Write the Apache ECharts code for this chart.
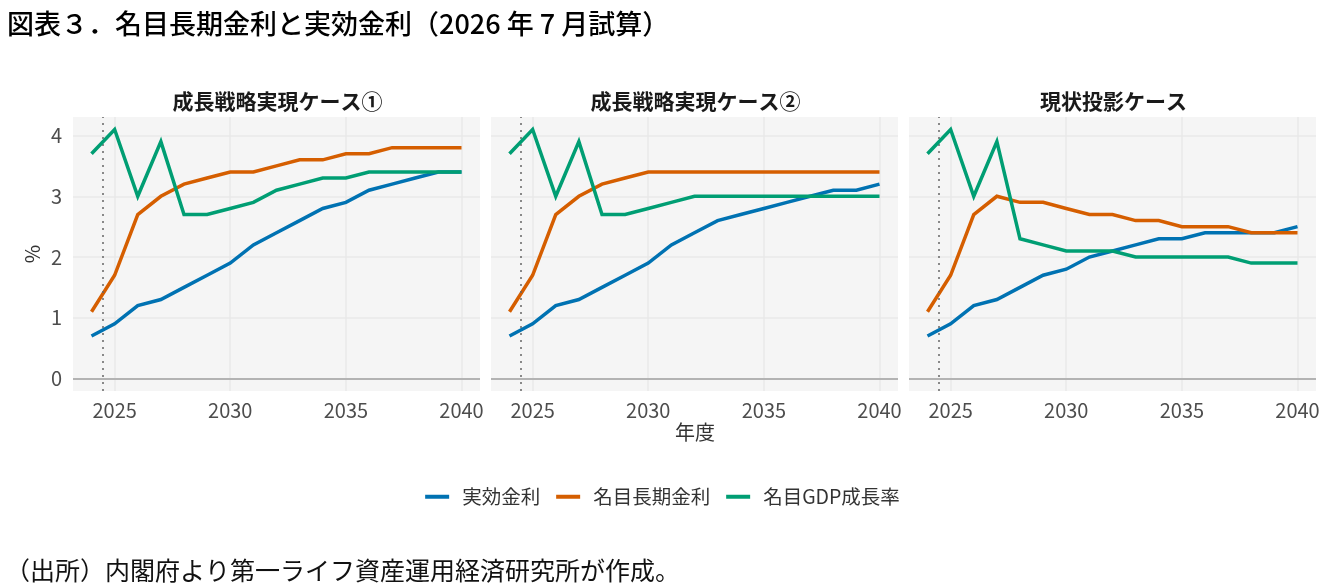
<!DOCTYPE html>
<html>
<head>
<meta charset="utf-8">
<script src="https://cdn.jsdelivr.net/npm/echarts@6/dist/echarts.min.js"></script>
<style>
  html, body { margin: 0; padding: 0; background: #fff; }
  #chart { width: 1325px; height: 585px; }
</style>
</head>
<body>
<div id="chart"></div>
<script>
'use strict';

const years = [2024, 2025, 2026, 2027, 2028, 2029, 2030, 2031, 2032,
  2033, 2034, 2035, 2036, 2037, 2038, 2039, 2040];
const xTicks = [2025, 2030, 2035, 2040];
const yTicks = [0, 1, 2, 3, 4];

const panelTitles = ['成長戦略実現ケース①', '成長戦略実現ケース②', '現状投影ケース'];
const seriesNames = ['実効金利', '名目長期金利', '名目GDP成長率'];

// 成長戦略実現ケース①
const case1_effective = [0.7, 0.9, 1.2, 1.3, 1.5, 1.7, 1.9, 2.2, 2.4, 2.6, 2.8, 2.9, 3.1, 3.2, 3.3, 3.4, 3.4];
const case1_nominal = [1.1, 1.7, 2.7, 3.0, 3.2, 3.3, 3.4, 3.4, 3.5, 3.6, 3.6, 3.7, 3.7, 3.8, 3.8, 3.8, 3.8];
const case1_gdp = [3.7, 4.1, 3.0, 3.9, 2.7, 2.7, 2.8, 2.9, 3.1, 3.2, 3.3, 3.3, 3.4, 3.4, 3.4, 3.4, 3.4];

// 成長戦略実現ケース②
const case2_effective = [0.7, 0.9, 1.2, 1.3, 1.5, 1.7, 1.9, 2.2, 2.4, 2.6, 2.7, 2.8, 2.9, 3.0, 3.1, 3.1, 3.2];
const case2_nominal = [1.1, 1.7, 2.7, 3.0, 3.2, 3.3, 3.4, 3.4, 3.4, 3.4, 3.4, 3.4, 3.4, 3.4, 3.4, 3.4, 3.4];
const case2_gdp = [3.7, 4.1, 3.0, 3.9, 2.7, 2.7, 2.8, 2.9, 3.0, 3.0, 3.0, 3.0, 3.0, 3.0, 3.0, 3.0, 3.0];

// 現状投影ケース
const case3_effective = [0.7, 0.9, 1.2, 1.3, 1.5, 1.7, 1.8, 2.0, 2.1, 2.2, 2.3, 2.3, 2.4, 2.4, 2.4, 2.4, 2.5];
const case3_nominal = [1.1, 1.7, 2.7, 3.0, 2.9, 2.9, 2.8, 2.7, 2.7, 2.6, 2.6, 2.5, 2.5, 2.5, 2.4, 2.4, 2.4];
const case3_gdp = [3.7, 4.1, 3.0, 3.9, 2.3, 2.2, 2.1, 2.1, 2.1, 2.0, 2.0, 2.0, 2.0, 2.0, 1.9, 1.9, 1.9];

const panels = [
  [case1_effective, case1_nominal, case1_gdp],
  [case2_effective, case2_nominal, case2_gdp],
  [case3_effective, case3_nominal, case3_gdp],
];

const colors = ['#0072B2', '#D55E00', '#009E73'];
const font = '"Noto Sans CJK JP", "Noto Sans", sans-serif';
const gridLefts = [73, 491, 909];
const gridWidth = 407;

const grids = [], xAxes = [], yAxes = [], series = [], titles = [];

gridLefts.forEach((left, i) => {
  grids.push({
    left: left, top: 117, width: gridWidth, height: 274,
    show: true, backgroundColor: '#f5f5f5', borderWidth: 0,
  });
  xAxes.push({
    type: 'value', gridIndex: i, min: 2023.2, max: 2040.8,
    axisLine: { show: false },
    axisTick: { show: false, customValues: xTicks },
    axisLabel: {
      customValues: xTicks, color: '#4d4d4d', fontSize: 20,
      fontFamily: font, margin: 9,
      formatter: (v) => String(v),
    },
    splitLine: { show: true, lineStyle: { color: '#e8e8e8', width: 1.5 } },
  });
  yAxes.push({
    type: 'value', gridIndex: i, min: -0.205, max: 4.305,
    name: i === 0 ? '%' : '',
    nameLocation: 'middle', nameGap: 31, nameRotate: 90,
    nameTextStyle: { color: '#333', fontSize: 20, fontFamily: font },
    axisLine: { show: false },
    axisTick: { show: false, customValues: yTicks },
    axisLabel: {
      show: i === 0, customValues: yTicks, color: '#4d4d4d',
      fontSize: 20, fontFamily: font, margin: 11,
    },
    splitLine: { show: true, lineStyle: { color: '#e8e8e8', width: 1.5 } },
  });
  titles.push({
    text: panelTitles[i],
    left: left + gridWidth / 2 - 4, top: 86, textAlign: 'center',
    textStyle: { fontSize: 21, fontWeight: 'bold', color: '#1a1a1a', fontFamily: font },
  });
  panels[i].forEach((vals, k) => {
    const s = {
      name: seriesNames[k], type: 'line', xAxisIndex: i, yAxisIndex: i,
      data: years.map((y, j) => [y, vals[j]]),
      showSymbol: false, symbol: 'none',
      lineStyle: { color: colors[k], width: 3.5, cap: 'butt', join: 'miter' },
      itemStyle: { color: colors[k] },
      z: 3 + k,
      animation: false,
    };
    if (k === 0) {
      s.markLine = {
        silent: true, symbol: 'none', animation: false,
        label: { show: false },
        data: [
          { yAxis: 0, lineStyle: { color: '#a0a0a0', width: 1.5, type: 'solid' } },
          { xAxis: 2024.5, lineStyle: { color: '#666', width: 1.5, type: [2, 5] } },
        ],
      };
    }
    series.push(s);
  });
});

const chart = echarts.init(document.getElementById('chart'));
chart.setOption({
  animation: false,
  backgroundColor: '#fff',
  title: [
    {
      text: '図表３．名目長期金利と実効金利（2026 年 7 月試算）',
      left: 2, top: 5,
      textStyle: { fontSize: 27, fontWeight: 500, color: '#000', fontFamily: font },
    },
    ...titles,
    {
      text: '（出所）内閣府より第一ライフ資産運用経済研究所が作成。',
      left: 0, top: 553,
      textStyle: { fontSize: 25, fontWeight: 'normal', color: '#111', fontFamily: font },
    },
  ],
  legend: {
    data: seriesNames,
    left: 'center', top: 482,
    icon: 'rect', itemWidth: 24, itemHeight: 4, itemGap: 16,
    textStyle: { fontSize: 19.5, color: '#333', fontFamily: font, padding: [0, 0, 0, 8] },
  },
  graphic: [
    {
      type: 'text', left: 675, top: 422,
      style: { text: '年度', fontSize: 20, fill: '#333', fontFamily: font },
    },
  ],
  grid: grids,
  xAxis: xAxes,
  yAxis: yAxes,
  series: series,
});
</script>
</body>
</html>
